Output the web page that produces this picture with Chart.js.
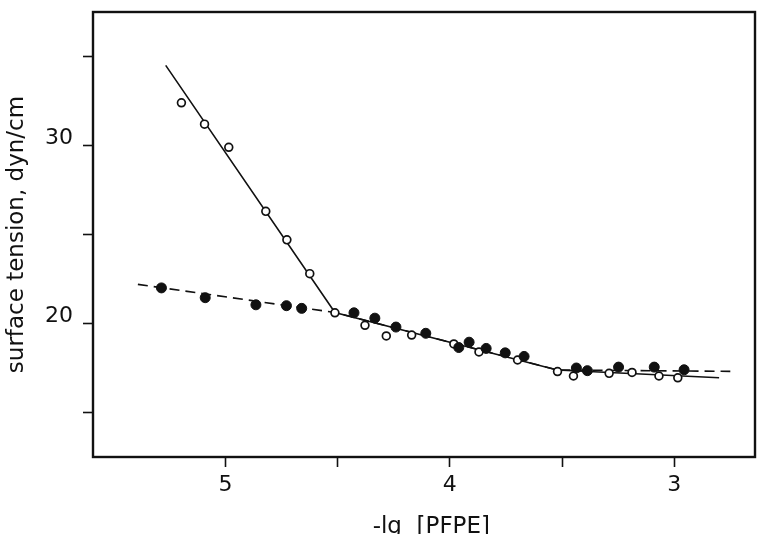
<!DOCTYPE html>
<html>
<head>
<meta charset="utf-8">
<script src="https://cdn.jsdelivr.net/npm/chart.js@4"></script>
<style>
  html, body { margin: 0; padding: 0; background: #fff; }
  canvas { display: block; }
</style>
</head>
<body>
<canvas id="chart" width="761" height="534"></canvas>
<script>
// open circles
const openX = [5.196, 5.093, 4.985, 4.82, 4.726, 4.624, 4.512, 4.378, 4.283, 4.17, 3.982, 3.87, 3.698, 3.52, 3.449, 3.29, 3.188, 3.068, 2.984];
const openY = [32.4, 31.2, 29.9, 26.3, 24.7, 22.8, 20.6, 19.9, 19.3, 19.35, 18.85, 18.4, 17.95, 17.3, 17.05, 17.2, 17.25, 17.05, 16.95];

// filled circles
const filledX = [5.285, 5.09, 4.864, 4.728, 4.66, 4.427, 4.334, 4.24, 4.107, 3.96, 3.914, 3.838, 3.753, 3.669, 3.436, 3.387, 3.248, 3.089, 2.956];
const filledY = [22.0, 21.45, 21.05, 21.0, 20.85, 20.6, 20.3, 19.8, 19.45, 18.65, 18.95, 18.6, 18.35, 18.15, 17.5, 17.35, 17.55, 17.55, 17.4];

// fitted lines
const solidX = [5.266, 4.512, 3.522, 2.80];
const solidY = [34.5, 20.62, 17.39, 16.95];
const dashX = [5.39, 4.512, 3.522, 2.75];
const dashY = [22.2, 20.62, 17.39, 17.31];

const xTicks = [5, 4.5, 4, 3.5, 3];
const yTicks = [15, 20, 25, 30, 35];

const FONT = "'DejaVu Sans', sans-serif";

const toPoints = (xs, ys) => xs.map((x, i) => ({ x: x, y: ys[i] }));

// frame around the plot area
const frame = {
    id: 'frame',
    afterDraw(chart) {
        const { ctx, chartArea: a } = chart;
        ctx.save();
        ctx.strokeStyle = '#111';
        ctx.lineWidth = 2.4;
        ctx.strokeRect(a.left, a.top, a.right - a.left, a.bottom - a.top);
        ctx.restore();
    }
};

new Chart(document.getElementById('chart'), {
    type: 'scatter',
    data: {
        datasets: [
            {
                data: toPoints(solidX, solidY),
                showLine: true,
                borderColor: '#111',
                borderWidth: 1.6,
                pointRadius: 0,
                order: 3
            },
            {
                data: toPoints(dashX, dashY),
                showLine: true,
                borderColor: '#111',
                borderWidth: 1.6,
                borderDash: [10, 6],
                pointRadius: 0,
                order: 2
            },
            {
                data: toPoints(openX, openY),
                pointRadius: 3.9,
                pointBackgroundColor: '#fff',
                pointBorderColor: '#111',
                pointBorderWidth: 1.7,
                order: 1
            },
            {
                data: toPoints(filledX, filledY),
                pointRadius: 5,
                pointBackgroundColor: '#111',
                pointBorderColor: '#111',
                pointBorderWidth: 1,
                order: 0
            }
        ]
    },
    options: {
        responsive: false,
        animation: false,
        layout: { padding: { top: 12, right: 2, left: 0, bottom: 0 } },
        plugins: {
            legend: { display: false },
            tooltip: { enabled: false }
        },
        scales: {
            x: {
                type: 'linear',
                reverse: true,
                min: 2.64,
                max: 5.59,
                afterBuildTicks: (scale) => { scale.ticks = xTicks.map(v => ({ value: v })); },
                afterFit: (scale) => {
                    scale.height = 77;
                    scale.paddingLeft = 0;
                    scale.paddingRight = 0;
                },
                border: { display: false },
                grid: {
                    drawOnChartArea: false,
                    drawTicks: true,
                    tickLength: 10,
                    tickWidth: 1.6,
                    tickColor: '#111'
                },
                ticks: {
                    padding: 5,
                    color: '#111',
                    font: { family: FONT, size: 22 },
                    maxRotation: 0,
                    callback: (v) => Number.isInteger(v) ? String(v) : ''
                },
                title: {
                    display: true,
                    text: '  -lg  [PFPE]',
                    color: '#111',
                    font: { family: FONT, size: 23, lineHeight: 0.6 },
                    padding: { top: 0, bottom: 0 }
                }
            },
            y: {
                type: 'linear',
                min: 12.5,
                max: 37.5,
                afterBuildTicks: (scale) => { scale.ticks = yTicks.map(v => ({ value: v })); },
                afterFit: (scale) => {
                    scale.width = 93;
                    scale.paddingTop = 0;
                    scale.paddingBottom = 0;
                },
                border: { display: false },
                grid: {
                    drawOnChartArea: false,
                    drawTicks: true,
                    tickLength: 10,
                    tickWidth: 1.6,
                    tickColor: '#111'
                },
                ticks: {
                    padding: 10,
                    labelOffset: -7,
                    color: '#111',
                    font: { family: FONT, size: 22 },
                    callback: (v) => v % 10 === 0 ? String(v) : ''
                },
                title: {
                    display: true,
                    text: 'surface tension, dyn/cm',
                    color: '#111',
                    font: { family: FONT, size: 23, lineHeight: 1 },
                    padding: { top: 6, bottom: 0 }
                }
            }
        }
    },
    plugins: [frame]
});
</script>
</body>
</html>
